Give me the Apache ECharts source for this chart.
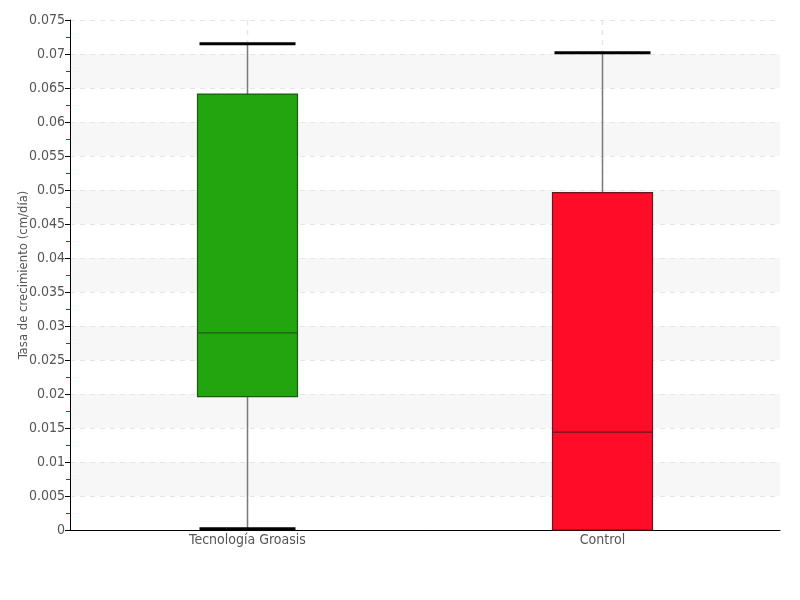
<!DOCTYPE html>
<html><head><meta charset="utf-8">
<script src="https://cdn.jsdelivr.net/npm/echarts@6/dist/echarts.min.js"></script>
<style>html,body{margin:0;padding:0;background:#fff}#c{width:800px;height:600px}</style>
</head><body><div id="c"></div>
<script>
var categories = ['Tecnología Groasis', 'Control'];
var mins    = [0.0002, 0.0];
var q1s     = [0.0196, 0.0];
var medians = [0.0290, 0.0144];
var q3s     = [0.0641, 0.0496];
var maxs    = [0.0715, 0.0702];
var fillColors   = ['#22a50f', '#ff0d28'];
var borderColors = ['#1c5a12', '#6a1420'];
var yTicks = { min: 0, max: 0.075, interval: 0.005 };

var FONT = "'DejaVu Sans Condensed','Liberation Sans Narrow',sans-serif";
var data = categories.map(function (c, i) { return [i, mins[i], q1s[i], medians[i], q3s[i], maxs[i]]; });

function renderItem(params, api) {
  var i = api.value(0);
  var pMin = api.coord([i, api.value(1)]);
  var pQ1 = api.coord([i, api.value(2)]);
  var pMed = api.coord([i, api.value(3)]);
  var pQ3 = api.coord([i, api.value(4)]);
  var pMax = api.coord([i, api.value(5)]);
  var x = pMin[0];
  var bw = 100, cw = 96;
  var top = params.coordSys.y, bottom = params.coordSys.y + params.coordSys.height;
  var children = [];
  children.push({ type: 'line', shape: { x1: x, y1: top, x2: x, y2: bottom },
    style: { stroke: '#e6e6e6', lineWidth: 1.5, lineDash: [5, 5] } });
  children.push({ type: 'line', shape: { x1: x, y1: pMax[1], x2: x, y2: pQ3[1] },
    style: { stroke: '#7a7a7a', lineWidth: 1.5 } });
  children.push({ type: 'line', shape: { x1: x, y1: pQ1[1], x2: x, y2: pMin[1] },
    style: { stroke: '#7a7a7a', lineWidth: 1.5 } });
  children.push({ type: 'line', shape: { x1: x - cw / 2, y1: pMax[1], x2: x + cw / 2, y2: pMax[1] },
    style: { stroke: '#000', lineWidth: 3 } });
  if (api.value(1) < api.value(2)) {
    children.push({ type: 'line', shape: { x1: x - cw / 2, y1: pMin[1], x2: x + cw / 2, y2: pMin[1] },
      style: { stroke: '#000', lineWidth: 3 } });
  }
  children.push({ type: 'rect', shape: { x: x - bw / 2, y: pQ3[1], width: bw, height: pQ1[1] - pQ3[1] },
    style: { fill: fillColors[i], stroke: borderColors[i], lineWidth: 1.2 } });
  children.push({ type: 'line', shape: { x1: x - bw / 2, y1: pMed[1], x2: x + bw / 2, y2: pMed[1] },
    style: { stroke: borderColors[i], lineWidth: 1.2 } });
  return { type: 'group', children: children };
}

var chart = echarts.init(document.getElementById('c'));
chart.setOption({
  animation: false,
  grid: { left: 70, right: 20, top: 20, bottom: 70, containLabel: false, outerBoundsMode: 'none' },
  xAxis: {
    type: 'category', data: categories,
    axisLine: { lineStyle: { color: '#000', width: 1 } },
    axisTick: { show: false },
    axisLabel: { color: '#555', fontSize: 14, fontFamily: FONT, margin: 3 },
    splitLine: { show: false }
  },
  yAxis: {
    type: 'value', min: yTicks.min, max: yTicks.max, interval: yTicks.interval,
    name: 'Tasa de crecimiento (cm/día)', nameLocation: 'middle', nameGap: 40, nameMoveOverlap: false,
    nameTextStyle: { color: '#555', fontSize: 13, fontFamily: FONT },
    axisLine: { show: true, lineStyle: { color: '#000', width: 1 } },
    axisTick: { show: true, length: 5, lineStyle: { color: '#000' } },
    minorTick: { show: true, splitNumber: 2, length: 4, lineStyle: { color: '#d00' } },
    axisLabel: { color: '#555', fontSize: 14, fontFamily: FONT, margin: 5 },
    splitLine: { show: true, lineStyle: { color: '#e6e6e6', type: [5, 5] } },
    splitArea: { show: true, areaStyle: { color: ['rgba(255,255,255,0)', '#f7f7f7'] } }
  },
  series: [{
    type: 'custom', renderItem: renderItem, data: data,
    encode: { x: 0, y: [1, 2, 3, 4, 5] }
  }]
});
</script></body></html>
